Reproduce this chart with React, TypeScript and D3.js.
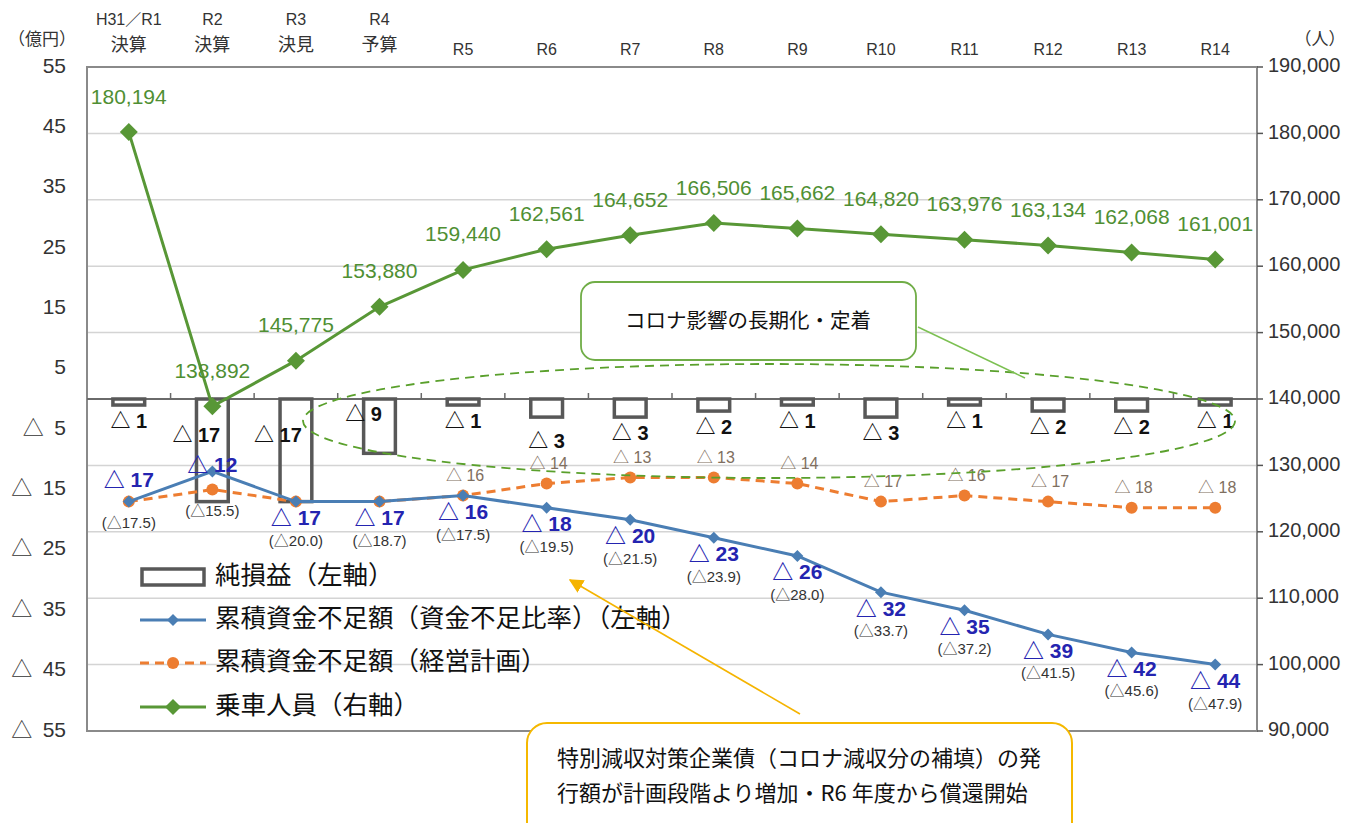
import React from 'react';
import * as d3 from 'd3';

// Fiscal years along the x axis
const yearLine1 = ['H31／R1', 'R2', 'R3', 'R4', 'R5', 'R6', 'R7', 'R8', 'R9', 'R10', 'R11', 'R12', 'R13', 'R14'];
const yearLine2 = ['決算', '決算', '決見', '予算', '', '', '', '', '', '', '', '', '', ''];

// 純損益 (億円, left axis)
const netProfit = [-1, -17, -17, -9, -1, -3, -3, -2, -1, -3, -1, -2, -2, -1];
// 累積資金不足額 (資金不足比率) (left axis)
const shortfallRatio = [-17, -12, -17, -17, -16, -18, -20, -23, -26, -32, -35, -39, -42, -44];
// bracketed amounts printed under each ratio
const shortfallAmount = [-17.5, -15.5, -20.0, -18.7, -17.5, -19.5, -21.5, -23.9, -28.0, -33.7, -37.2, -41.5, -45.6, -47.9];
// 累積資金不足額 (経営計画) (left axis)
const shortfallPlan = [-17, -15, -17, -17, -16, -14, -13, -13, -14, -17, -16, -17, -18, -18];
const planLabelStart = 4;
// 乗車人員 (人, right axis)
const passengers = [180194, 138892, 145775, 153880, 159440, 162561, 164652, 166506, 165662, 164820, 163976, 163134, 162068, 161001];

const leftTicks = [55, 45, 35, 25, 15, 5, -5, -15, -25, -35, -45, -55];
const rightTicks = [190000, 180000, 170000, 160000, 150000, 140000, 130000, 120000, 110000, 100000, 90000];

const legendItems = ['純損益（左軸）', '累積資金不足額（資金不足比率）（左軸）', '累積資金不足額（経営計画）', '乗車人員（右軸）'];

const W = 1356;
const H = 823;
const plot = { left: 87, right: 1257, top: 67, bottom: 731 };

const JP = "'Noto Sans CJK JP', sans-serif";
const NUM = "'Liberation Sans', Arial, 'Noto Sans CJK JP', sans-serif";

const GREEN = '#589736';
const BLUE = '#4a7eb4';
const ORANGE = '#ed7d31';
const BAR = '#585858';

const tri = (v: number) => (v < 0 ? '△ ' + Math.abs(v) : String(v));
const triAxis = (v: number) => (v < 0 ? '△\u2002' + Math.abs(v) : String(v));
const triFixed = (v: number) => '(△' + Math.abs(v).toFixed(1) + ')';
const fmt = d3.format(',');

const diamond = (cx: number, cy: number, r: number) =>
  `M${cx},${cy - r}L${cx + r},${cy}L${cx},${cy + r}L${cx - r},${cy}Z`;

export default function App() {
  const x = d3.scaleBand<string>().domain(yearLine1).range([plot.left, plot.right]);
  const cx = (i: number) => (x(yearLine1[i]) as number) + x.bandwidth() / 2;
  const yL = d3.scaleLinear().domain([-55, 55]).range([plot.bottom, plot.top]);
  const yR = d3.scaleLinear().domain([90000, 190000]).range([plot.bottom, plot.top]);
  const y0 = yL(0);
  const barW = x.bandwidth() * 0.38;

  const lineL = d3
    .line<number>()
    .x((_, i) => cx(i))
    .y((d) => yL(d));
  const lineR = d3
    .line<number>()
    .x((_, i) => cx(i))
    .y((d) => yR(d));

  // label placement tweaks for the deep bars and the first two ratio points
  const barLabelPos = (i: number, v: number) => {
    const bottom = yL(v);
    if (i === 1) return { x: cx(i) - 16, y: y0 + 38 };
    if (i === 2) return { x: cx(i) - 18, y: y0 + 38 };
    if (i === 3) return { x: cx(i) - 16, y: y0 + 17 };
    if (i === 5) return { x: cx(i), y: bottom + 26 };
    return { x: cx(i), y: bottom + 18 };
  };
  const ratioLabelPos = (i: number, v: number) => {
    const py = yL(v);
    if (i === 0) return { lab: py - 20, par: py + 22 };
    if (i === 1) return { lab: py - 5, par: py + 41 };
    return { lab: py + 18, par: py + 40 };
  };

  const legendY = [577, 620, 663, 707];

  return (
    <svg
      width={W}
      height={H}
      viewBox={`0 0 ${W} ${H}`}
      style={{ position: 'absolute', left: 0, top: 0, background: '#fff' }}
    >
      <defs>
        <marker id="arrowHead" viewBox="0 0 10 10" refX="9" refY="5" markerWidth="9" markerHeight="9" orient="auto-start-reverse">
          <path d="M0,0L10,5L0,10Z" fill="#f5b400" />
        </marker>
      </defs>
      <rect x={0} y={0} width={W} height={H} fill="#fff" />

      {/* gridlines follow the right-axis ticks */}
      {rightTicks.map((t) => (
        <line key={'g' + t} x1={plot.left} x2={plot.right} y1={yR(t)} y2={yR(t)} stroke="#d4d4d4" strokeWidth={1.5} />
      ))}

      {/* plot frame */}
      <rect x={plot.left} y={plot.top} width={plot.right - plot.left} height={plot.bottom - plot.top} fill="none" stroke="#8a8a8a" strokeWidth={2} />
      {rightTicks.map((t) => (
        <line key={'rt' + t} x1={plot.right} x2={plot.right + 6} y1={yR(t)} y2={yR(t)} stroke="#555" strokeWidth={1.5} />
      ))}

      {/* zero axis with category ticks */}
      <line x1={plot.left} x2={plot.right} y1={y0} y2={y0} stroke="#6a6a6a" strokeWidth={2} />
      {d3.range(1, yearLine1.length).map((i) => (
        <line key={'xt' + i} x1={x(yearLine1[i]) as number} x2={x(yearLine1[i]) as number} y1={y0} y2={y0 - 6} stroke="#6a6a6a" strokeWidth={1.5} />
      ))}

      {/* left axis */}
      <text x={42} y={40} textAnchor="middle" dominantBaseline="middle" fontFamily={JP} fontSize={17} fill="#333">（億円）</text>
      {leftTicks.map((t) => (
        <text key={'lt' + t} x={66} y={yL(t)} textAnchor="end" dominantBaseline="middle" fontFamily={NUM} fontSize={21} fill="#333">
          {triAxis(t)}
        </text>
      ))}

      {/* right axis */}
      <text x={1320} y={40} textAnchor="middle" dominantBaseline="middle" fontFamily={JP} fontSize={17} fill="#333">（人）</text>
      {rightTicks.map((t) => (
        <text key={'rl' + t} x={1268} y={yR(t)} dominantBaseline="middle" fontFamily={NUM} fontSize={20} fill="#333">
          {fmt(t)}
        </text>
      ))}

      {/* year headers */}
      {yearLine1.map((c, i) =>
        yearLine2[i] ? (
          <g key={'h' + c}>
            <text x={cx(i)} y={21} textAnchor="middle" dominantBaseline="middle" fontFamily={NUM} fontSize={16} fill="#333">{c}</text>
            <text x={cx(i)} y={46} textAnchor="middle" dominantBaseline="middle" fontFamily={JP} fontSize={18} fill="#333">{yearLine2[i]}</text>
          </g>
        ) : (
          <text key={'h' + c} x={cx(i)} y={51} textAnchor="middle" dominantBaseline="middle" fontFamily={NUM} fontSize={16} fill="#333">{c}</text>
        )
      )}

      {/* net profit bars */}
      {netProfit.map((v, i) => (
        <rect key={'b' + i} x={cx(i) - barW / 2} y={y0} width={barW} height={yL(v) - y0} fill="none" stroke={BAR} strokeWidth={3.5} />
      ))}
      {netProfit.map((v, i) => {
        const p = barLabelPos(i, v);
        return (
          <text key={'bl' + i} x={p.x} y={p.y} textAnchor="middle" dominantBaseline="middle" fontFamily={NUM} fontWeight={700} fontSize={20} fill="#111">
            {tri(v)}
          </text>
        );
      })}

      {/* plan shortfall (dashed orange) */}
      <path d={lineL(shortfallPlan) as string} fill="none" stroke={ORANGE} strokeWidth={3} strokeDasharray="9,6" />
      {shortfallPlan.map((v, i) => (
        <circle key={'oc' + i} cx={cx(i)} cy={yL(v)} r={6} fill={ORANGE} />
      ))}
      {shortfallPlan.map((v, i) =>
        i >= planLabelStart ? (
          <text key={'ol' + i} x={cx(i) + 2} y={yL(v) - 19} textAnchor="middle" dominantBaseline="middle" fontFamily={NUM} fontSize={16} fill="#7f6f60">
            {tri(v)}
          </text>
        ) : null
      )}

      {/* shortfall ratio (blue) */}
      <path d={lineL(shortfallRatio) as string} fill="none" stroke={BLUE} strokeWidth={3} />
      {shortfallRatio.map((v, i) => (
        <path key={'bd' + i} d={diamond(cx(i), yL(v), 6)} fill={BLUE} />
      ))}
      {shortfallRatio.map((v, i) => {
        const p = ratioLabelPos(i, v);
        return (
          <g key={'bt' + i}>
            <text x={cx(i)} y={p.lab} textAnchor="middle" dominantBaseline="middle" fontFamily={NUM} fontWeight={700} fontSize={21} fill="#2424b0">
              {tri(v)}
            </text>
            <text x={cx(i)} y={p.par} textAnchor="middle" dominantBaseline="middle" fontFamily={NUM} fontSize={15} fill="#333">
              {triFixed(shortfallAmount[i])}
            </text>
          </g>
        );
      })}

      {/* passengers (green, right axis) */}
      <path d={lineR(passengers) as string} fill="none" stroke={GREEN} strokeWidth={3} />
      {passengers.map((v, i) => (
        <path key={'gd' + i} d={diamond(cx(i), yR(v), 9)} fill={GREEN} />
      ))}
      {passengers.map((v, i) => (
        <text key={'gl' + i} x={cx(i)} y={yR(v) - 34} textAnchor="middle" dominantBaseline="middle" fontFamily={NUM} fontSize={21} fill="#4f8f33">
          {fmt(v)}
        </text>
      ))}

      {/* callout: prolonged corona impact */}
      <ellipse cx={769} cy={421} rx={466} ry={57} fill="none" stroke="#5aa02c" strokeWidth={1.8} strokeDasharray="9,6" />
      <line x1={918} y1={327} x2={1025} y2={378} stroke="#7cc052" strokeWidth={1.5} />
      <rect x={581} y={282} width={335} height={78} rx={14} fill="#fff" stroke="#70ad47" strokeWidth={1.8} />
      <text x={748} y={322} textAnchor="middle" dominantBaseline="middle" fontFamily={JP} fontSize={20.5} fill="#111">
        コロナ影響の長期化・定着
      </text>

      {/* legend */}
      <g>
        <rect x={142} y={legendY[0] - 8} width={62} height={16} fill="none" stroke={BAR} strokeWidth={3.5} />
        <line x1={140} x2={206} y1={legendY[1]} y2={legendY[1]} stroke={BLUE} strokeWidth={3} />
        <path d={diamond(173, legendY[1], 6)} fill={BLUE} />
        <line x1={140} x2={206} y1={legendY[2]} y2={legendY[2]} stroke={ORANGE} strokeWidth={3} strokeDasharray="9,6" />
        <circle cx={173} cy={legendY[2]} r={6} fill={ORANGE} />
        <line x1={140} x2={206} y1={legendY[3]} y2={legendY[3]} stroke={GREEN} strokeWidth={3} />
        <path d={diamond(173, legendY[3], 8)} fill={GREEN} />
        {legendItems.map((t, i) => (
          <text key={'lg' + i} x={215} y={legendY[i]} dominantBaseline="middle" fontFamily={JP} fontSize={25.5} fill="#111">
            {t}
          </text>
        ))}
      </g>

      {/* callout: special revenue-shortfall bonds */}
      <line x1={800} y1={714} x2={570} y2={580} stroke="#f5b400" strokeWidth={1.6} markerEnd="url(#arrowHead)" />
      <rect x={527} y={723} width={545} height={130} rx={20} fill="#fff" stroke="#f5b800" strokeWidth={2} />
      <text x={557} y={760} dominantBaseline="middle" fontFamily={JP} fontSize={22} fill="#111">
        特別減収対策企業債（コロナ減収分の補填）の発
      </text>
      <text x={557} y={795} dominantBaseline="middle" fontFamily={JP} fontSize={22} fill="#111">
        行額が計画段階より増加・R6 年度から償還開始
      </text>
    </svg>
  );
}
